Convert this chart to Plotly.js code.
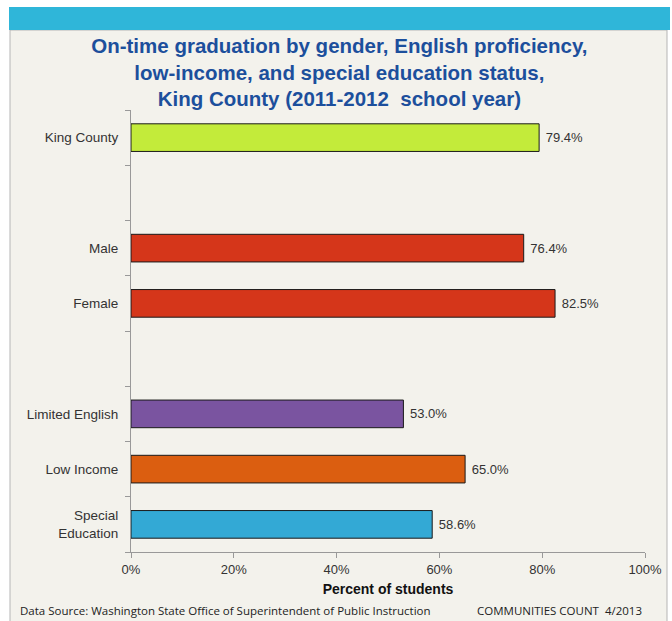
<!DOCTYPE html>
<html>
<head>
<meta charset="utf-8">
<script src="https://cdn.plot.ly/plotly-3.0.1.min.js"></script>
<style>html,body{margin:0;padding:0;background:#fff;}#chart{width:672px;height:621px;}</style>
</head>
<body>
<div id="chart"></div>
<script>
// ---- data ----
const categories = ['King County', '', 'Male', 'Female', '', 'Limited English', 'Low Income', 'Special<br>Education'];
const values = [79.4, null, 76.4, 82.5, null, 53.0, 65.0, 58.6];
const barColors = ['#c3eb3a', null, '#d5361a', '#d5361a', null, '#7a54a0', '#db5e10', '#33a9d5'];
const xTickVals = [0, 20, 40, 60, 80, 100];
const xTickText = ['0%', '20%', '40%', '60%', '80%', '100%'];
const titleText = 'On-time graduation by gender, English proficiency,<br>low-income, and special education status,<br>King County (2011-2012  school year)';
const xTitle = 'Percent of students';
const sourceText = 'Data Source: Washington State Office of Superintendent of Public Instruction';
const creditText = 'COMMUNITIES COUNT  4/2013';

// ---- build ----
const pos = [], xs = [], cols = [], txt = [];
categories.forEach((c, i) => {
  if (values[i] !== null) {
    pos.push(i); xs.push(values[i]); cols.push(barColors[i]); txt.push(' ' + values[i].toFixed(1) + '%');
  }
});
const labelVals = [], labelText = [];
categories.forEach((c, i) => { if (c) { labelVals.push(i); labelText.push(c); } });

const W = 672, H = 621, L = 131, R = 645, T = 110, B = 552;
const px = x => (x - L) / (R - L);
const py = y => (B - y) / (B - T);

const trace = {
  type: 'bar', orientation: 'h',
  x: xs, y: pos,
  width: 0.5,
  marker: { color: cols, line: { color: '#1a1a1a', width: 1 } },
  text: txt, textposition: 'outside', cliponaxis: false,
  textfont: { family: 'Liberation Sans, Arial, sans-serif', size: 13, color: '#333' },
  hoverinfo: 'none'
};

const layout = {
  width: W, height: H,
  margin: { l: L, r: W - R, t: T, b: H - B, pad: 0 },
  paper_bgcolor: '#ffffff',
  plot_bgcolor: 'rgba(0,0,0,0)',
  showlegend: false,
  title: {
    text: titleText,
    font: { family: 'Liberation Sans, Arial, sans-serif', size: 20.5, color: '#1c4f9c', weight: 'bold' },
    x: 0.505, xanchor: 'center', xref: 'container',
    y: 1 - 53 / H, yanchor: 'top', yref: 'container'
  },
  xaxis: {
    range: [0, 100], fixedrange: true,
    tickvals: xTickVals, ticktext: xTickText,
    ticks: 'outside', ticklen: 5, tickcolor: '#999',
    showgrid: false, zeroline: false,
    showline: true, linecolor: '#999', linewidth: 1,
    tickfont: { family: 'Liberation Sans, Arial, sans-serif', size: 13, color: '#333' },
    title: { text: '<b>' + xTitle + '</b>', standoff: 8,
      font: { family: 'Liberation Sans, Arial, sans-serif', size: 14, color: '#111' } }
  },
  yaxis: {
    range: [categories.length - 0.5, -0.5], fixedrange: true,
    tickvals: labelVals, ticktext: labelText,
    ticks: '', ticklabelstandoff: 9,
    minor: { tick0: -0.5, dtick: 1, ticks: 'outside', ticklen: 5, tickcolor: '#999', showgrid: false },
    showgrid: false, zeroline: false,
    showline: true, linecolor: '#999', linewidth: 1,
    tickfont: { family: 'Liberation Sans, Arial, sans-serif', size: 13.5, color: '#333' }
  },
  bargap: 0.5,
  shapes: [
    { type: 'rect', xref: 'paper', yref: 'paper', layer: 'below',
      x0: px(10), x1: px(667), y0: py(30), y1: py(640),
      fillcolor: '#f3f2ec', line: { color: '#b5b5b5', width: 1 } },
    { type: 'rect', xref: 'paper', yref: 'paper', layer: 'below',
      x0: px(9), x1: px(670), y0: py(7), y1: py(30),
      fillcolor: '#2fb6d9', line: { width: 0 } }
  ],
  annotations: [
    { text: sourceText, xref: 'paper', yref: 'paper', x: px(18), y: py(620),
      xanchor: 'left', yanchor: 'bottom', showarrow: false,
      font: { family: 'Open Sans, sans-serif', size: 11.5, color: '#222' } },
    { text: creditText, xref: 'paper', yref: 'paper', x: px(475), y: py(620),
      xanchor: 'left', yanchor: 'bottom', showarrow: false,
      font: { family: 'Open Sans, sans-serif', size: 11.5, color: '#222' } }
  ]
};

Plotly.newPlot('chart', [trace], layout, { displayModeBar: false, staticPlot: true });
</script>
</body>
</html>
